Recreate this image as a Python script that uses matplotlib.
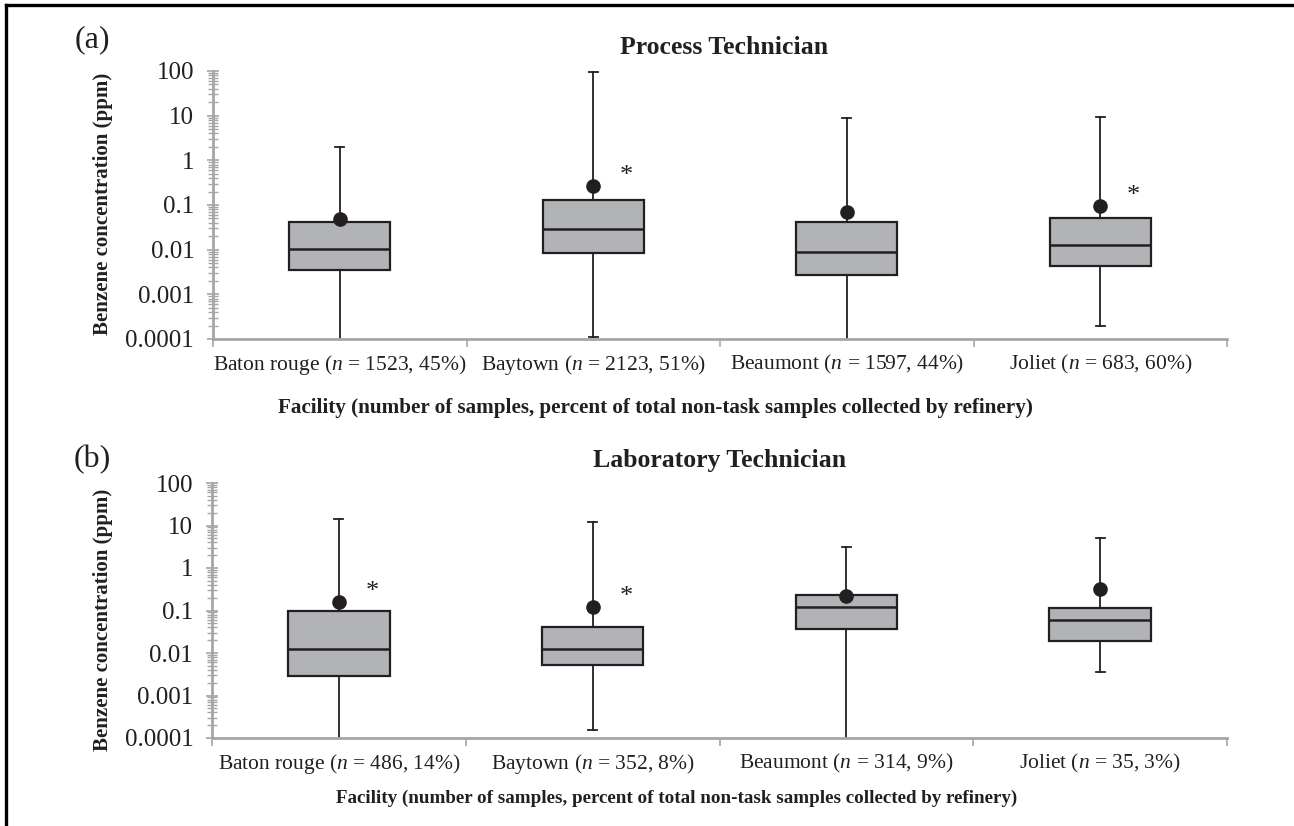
import numpy as np
import matplotlib
matplotlib.use("Agg")
import matplotlib.pyplot as plt
from matplotlib.lines import Line2D
from matplotlib.ticker import LogLocator, FuncFormatter, NullFormatter, FixedLocator

plt.rcParams['font.family'] = 'Liberation Serif'
plt.rcParams['mathtext.fontset'] = 'custom'
plt.rcParams['mathtext.rm'] = 'Liberation Serif'
plt.rcParams['mathtext.it'] = 'Liberation Serif:italic'

facilities = ["Baton rouge", "Baytown", "Beaumont", "Joliet"]

# Process technicians
proc_n = [1523, 2123, 1597, 683]
proc_pct = [45, 51, 44, 60]
proc_whislo = [0.00008, 0.00011, 0.00008, 0.000195]
proc_q1 = [0.0035, 0.0083, 0.0027, 0.0044]
proc_med = [0.0102, 0.0296, 0.0089, 0.0126]
proc_q3 = [0.041, 0.129, 0.041, 0.052]
proc_whishi = [1.95, 93, 8.9, 9.3]
proc_mean = [0.049, 0.266, 0.071, 0.095]
proc_signif = [False, True, False, True]

# Laboratory technicians
lab_n = [486, 352, 314, 35]
lab_pct = [14, 8, 9, 3]
lab_whislo = [0.00008, 0.000154, 0.00008, 0.0035]
lab_q1 = [0.0029, 0.0053, 0.037, 0.019]
lab_med = [0.0126, 0.0123, 0.119, 0.060]
lab_q3 = [0.099, 0.040, 0.23, 0.116]
lab_whishi = [14, 12, 3.2, 5.1]
lab_mean = [0.16, 0.123, 0.22, 0.32]
lab_signif = [True, True, False, False]

W, H = 1294, 826
fig = plt.figure(figsize=(W / 100, H / 100), dpi=100)

ink = '#231f20'
axis_grey = '#a6a6a6'
box_fill = '#b2b3b6'


def px_rect(x0, y0, x1, y1):
    return [x0 / W, 1 - y1 / H, (x1 - x0) / W, (y1 - y0) / H]


def draw_panel(rect, n, pct, whislo, q1, med, q3, whishi, mean, signif,
               ytick_size, cat_size):
    ax = fig.add_axes(rect)
    stats = []
    for i in range(len(facilities)):
        stats.append(dict(whislo=whislo[i], q1=q1[i], med=med[i], q3=q3[i],
                          whishi=whishi[i], mean=mean[i], fliers=[]))
    pos = np.arange(1, len(facilities) + 1)
    ax.bxp(stats, positions=pos, widths=0.4, patch_artist=True, showmeans=True,
           showfliers=False, capwidths=0.036,
           boxprops=dict(facecolor=box_fill, edgecolor=ink, linewidth=1.6),
           medianprops=dict(color=ink, linewidth=1.8),
           whiskerprops=dict(color=ink, linewidth=1.3),
           capprops=dict(color=ink, linewidth=1.3),
           meanprops=dict(marker='o', markerfacecolor=ink, markeredgecolor=ink,
                          markersize=9.5))
    for i, s in enumerate(signif):
        if s:
            ax.annotate('*', (pos[i], mean[i]), xytext=(24, 7),
                        textcoords='offset points', ha='center', va='center',
                        fontsize=19, color=ink)

    ax.set_yscale('log')
    ax.set_ylim(1e-4, 100)
    ax.set_xlim(0.5, len(facilities) + 0.5)
    ax.yaxis.set_major_locator(LogLocator(base=10, numticks=10))
    ax.yaxis.set_minor_locator(LogLocator(base=10, subs=np.arange(2, 10), numticks=20))
    ax.yaxis.set_major_formatter(FuncFormatter(lambda v, p: '{:g}'.format(v)))
    ax.yaxis.set_minor_formatter(NullFormatter())
    ax.tick_params(axis='y', which='major', direction='inout', length=9, width=1.2,
                   color=axis_grey, labelsize=ytick_size, pad=9, labelcolor=ink)
    ax.tick_params(axis='y', which='minor', direction='inout', length=7, width=1.0,
                   color=axis_grey)

    # category boundaries as ticks, names at the centres
    ax.xaxis.set_major_locator(FixedLocator(np.arange(0.5, len(facilities) + 1)))
    ax.xaxis.set_major_formatter(NullFormatter())
    ax.xaxis.set_minor_locator(FixedLocator(pos))
    ax.set_xticklabels(["{} ($n$ = {}, {}%)".format(f, n[i], pct[i])
                        for i, f in enumerate(facilities)], minor=True)
    ax.tick_params(axis='x', which='major', direction='out', length=6, width=1.2,
                   color=axis_grey)
    ax.tick_params(axis='x', which='minor', length=0, labelsize=cat_size, pad=10,
                   labelcolor=ink)

    for side in ('top', 'right'):
        ax.spines[side].set_visible(False)
    for side in ('left', 'bottom'):
        ax.spines[side].set_color(axis_grey)
        ax.spines[side].set_linewidth(2)
    ax.set_facecolor('none')
    return ax


draw_panel(px_rect(213, 71, 1227, 339), proc_n, proc_pct,
           proc_whislo, proc_q1, proc_med, proc_q3, proc_whishi, proc_mean,
           proc_signif, 18, 15.5)
draw_panel(px_rect(212, 483, 1227, 738), lab_n, lab_pct,
           lab_whislo, lab_q1, lab_med, lab_q3, lab_whishi, lab_mean,
           lab_signif, 18, 15.5)


def ftext(x, y, s, **kw):
    fig.text(x / W, 1 - y / H, s, color=ink, **kw)


ftext(92, 40, "(a)", fontsize=23, ha='center', va='center')
ftext(92, 460, "(b)", fontsize=23, ha='center', va='center')
ftext(724, 47, "Process Technician", fontsize=18.5, fontweight='bold', ha='center', va='center')
ftext(720, 460, "Laboratory Technician", fontsize=18.5, fontweight='bold', ha='center', va='center')
ftext(103, 204, "Benzene concentration (ppm)", fontsize=15, fontweight='bold',
      rotation=90, ha='center', va='center')
ftext(103, 620, "Benzene concentration (ppm)", fontsize=15, fontweight='bold',
      rotation=90, ha='center', va='center')
xlab = "Facility (number of samples, percent of total non-task samples collected by refinery)"
ftext(655, 408, xlab, fontsize=15.2, fontweight='bold', ha='center', va='center')
ftext(677, 798, xlab, fontsize=13.7, fontweight='bold', ha='center', va='center')

# frame on the left and top edges
fig.add_artist(Line2D([6 / W, 6 / W], [0, 1 - 5 / H], color='black', linewidth=2.4))
fig.add_artist(Line2D([6 / W, 1], [1 - 5 / H, 1 - 5 / H], color='black', linewidth=2.4))

fig.savefig("out.png", dpi=100, facecolor='white')
